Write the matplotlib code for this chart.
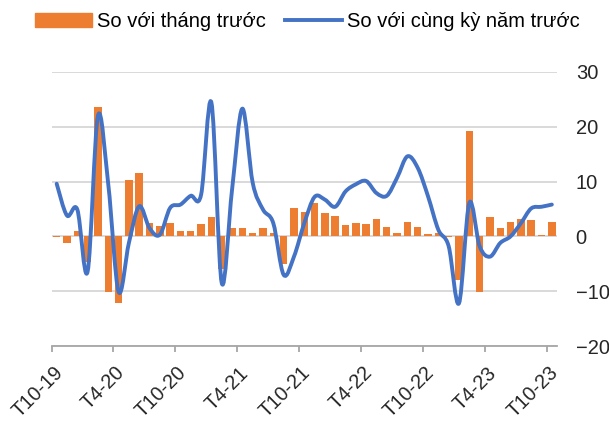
import numpy as np
import matplotlib
matplotlib.use('Agg')
import matplotlib.pyplot as plt
from matplotlib.path import Path
from matplotlib.patches import PathPatch, Patch
from matplotlib.lines import Line2D
from matplotlib.transforms import ScaledTranslation

plt.rcParams['font.family'] = ['Liberation Sans', 'DejaVu Sans']

# monthly data T10-19 .. T10-23 (49 months)
mom = [-0.2, -1.2, 0.9, -4.7, 23.6, -10.2, -12.2, 10.2, 11.5, 2.4,
       1.9, 2.4, 0.9, 0.9, 2.2, 3.5, -6.0, 1.5, 1.5, 0.7,
       1.5, 0.7, -5.0, 5.1, 4.5, 6.0, 4.3, 3.7, 2.0, 2.5,
       2.3, 3.2, 1.8, 0.7, 2.7, 1.8, 0.5, 0.7, -0.2, -8.0,
       19.3, -10.2, 3.5, 1.5, 2.7, 3.2, 3.0, 0.2, 2.7]
yoy = [9.6, 3.8, 4.9, -6.4, 22.0, 9.5, -10.1, -1.2, 5.5, 1.5,
       0.3, 5.2, 5.8, 7.4, 7.6, 24.4, -8.5, 8.5, 23.3, 9.8,
       4.9, 2.4, -7.0, -3.7, 2.4, 7.2, 6.7, 5.4, 8.2, 9.5,
       10.1, 7.9, 7.4, 10.7, 14.6, 12.5, 7.3, 1.2, -1.8, -12.2,
       6.1, -1.8, -3.7, -1.2, 0.0, 2.4, 5.1, 5.4, 5.8]
tick_labels = ['T10-19', 'T4-20', 'T10-20', 'T4-21', 'T10-21',
               'T4-22', 'T10-22', 'T4-23', 'T10-23']

orange = '#ED7D31'
blue = '#4472C4'

fig = plt.figure(figsize=(6.09, 4.23), dpi=100)
ax = fig.add_axes([0.0846, 0.182, 0.830, 0.648])

x = np.arange(len(mom))
ax.bar(x, mom, width=0.72, color=orange, zorder=2)

# smoothed line like excel: bezier segments through the points
pts = np.column_stack([x, yoy]).astype(float)
ext = np.vstack([pts[0], pts, pts[-1]])
verts = [tuple(pts[0])]
codes = [Path.MOVETO]
for i in range(len(pts) - 1):
    p0, p1, p2, p3 = ext[i], ext[i + 1], ext[i + 2], ext[i + 3]
    c1 = p1 + (p2 - p0) / 6
    c2 = p2 - (p3 - p1) / 6
    verts += [tuple(c1), tuple(c2), tuple(p2)]
    codes += [Path.CURVE4] * 3
ax.add_patch(PathPatch(Path(verts, codes), fill=False, edgecolor=blue,
                       lw=2.8, capstyle='round', joinstyle='round', zorder=3))

ax.set_xlim(-0.5, len(mom) - 0.5)
ax.set_ylim(-20, 30)
ax.set_yticks([-20, -10, 0, 10, 20, 30])
ax.yaxis.tick_right()
ax.grid(axis='y', color='#d9d9d9', lw=1.4, zorder=0)
ax.set_axisbelow(True)
for s in ['top', 'left', 'right']:
    ax.spines[s].set_visible(False)
ax.spines['bottom'].set_color('#a6a6a6')
ax.spines['bottom'].set_linewidth(1.3)
ax.tick_params(axis='y', length=0, pad=13.5, labelsize=14.5, labelcolor='#262626')

ax.set_xticks(np.arange(-0.5, len(mom), 6))
ax.set_xticklabels(tick_labels, rotation=45, ha='right')
ax.tick_params(axis='x', length=4.3, width=1.3, color='#a6a6a6',
               labelsize=14.3, labelcolor='#262626', pad=8)
off = ScaledTranslation(15 / 100, 0, fig.dpi_scale_trans)
for lbl in ax.get_xticklabels():
    lbl.set_transform(lbl.get_transform() + off)

handles = [Patch(color=orange), Line2D([], [], color=blue, lw=2.8)]
fig.legend(handles, ['So với tháng trước', 'So với cùng kỳ năm trước'],
           loc='upper center', bbox_to_anchor=(0.505, 1.0), ncol=2, frameon=False,
           fontsize=14.5, handlelength=2.8, handletextpad=0.28,
           columnspacing=0.95, borderaxespad=0.2)

fig.savefig('out.png', dpi=100)
